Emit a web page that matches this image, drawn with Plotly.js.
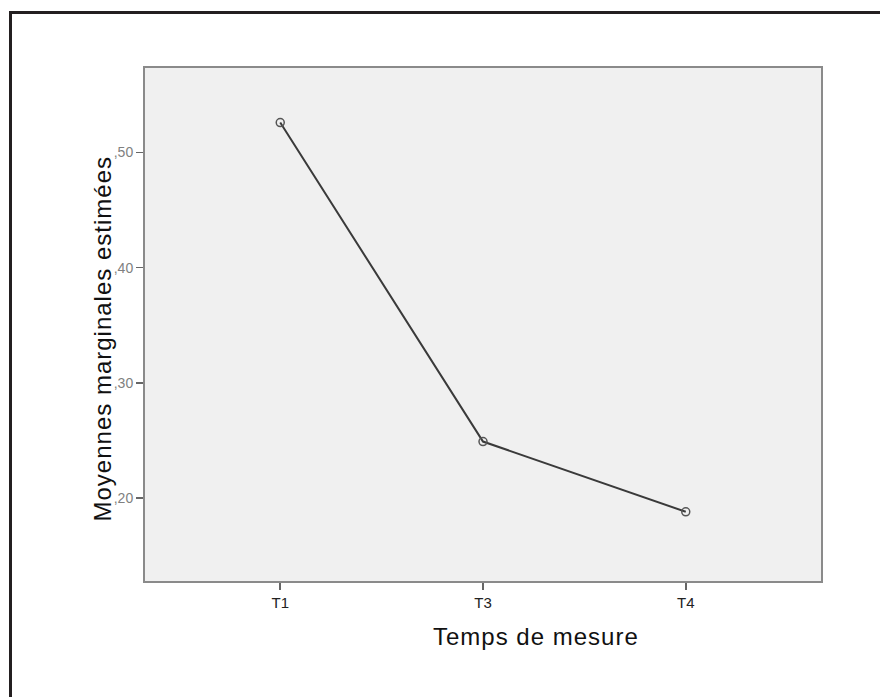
<!DOCTYPE html>
<html>
<head>
<meta charset="utf-8">
<script src="https://cdn.plot.ly/plotly-3.0.1.min.js"></script>
<style>
  body { margin: 0; overflow: hidden; background: #fff; }
  #graph { position: absolute; left: 0; top: 0; width: 880px; height: 697px; }
  #frame { position: absolute; left: 9px; top: 11px; width: 1000px; height: 1000px;
           border-left: 3px solid #231f20; border-top: 3px solid #231f20; pointer-events: none; }
  .annotation-text { letter-spacing: 1px; }
</style>
</head>
<body>
<div id="graph"></div>
<div id="frame"></div>
<script>
// temps de mesure et moyennes marginales
var temps = ['T1', 'T3', 'T4'];
var moyennes = [0.526, 0.249, 0.188];
var yTicks = [0.2, 0.3, 0.4, 0.5];
var yTickText = [',20', ',30', ',40', ',50'];

var titreFont = {family: 'Liberation Sans, Arial, sans-serif', size: 24, color: '#111'};

var trace = {
    x: temps,
    y: moyennes,
    type: 'scatter',
    mode: 'lines+markers',
    line: {color: '#3a3a3a', width: 2},
    marker: {symbol: 'circle-open', size: 8, color: '#555', line: {width: 1.5}},
    showlegend: false,
    hoverinfo: 'x+y'
};

var layout = {
    width: 880,
    height: 697,
    margin: {l: 145, r: 59, t: 68, b: 116},
    paper_bgcolor: 'rgba(0,0,0,0)',
    plot_bgcolor: '#f0f0f0',
    showlegend: false,
    xaxis: {
        type: 'category',
        range: [-0.667, 2.667],
        showgrid: false,
        zeroline: false,
        showline: true, mirror: true,
        linecolor: '#8a8a8a', linewidth: 2,
        ticks: 'outside', ticklen: 7, tickwidth: 1.5, tickcolor: '#666',
        tickfont: {family: 'Liberation Sans, Arial, sans-serif', size: 15, color: '#222'}
    },
    yaxis: {
        range: [0.1279, 0.5734],
        tickvals: yTicks,
        ticktext: yTickText,
        showgrid: false,
        zeroline: false,
        showline: true, mirror: true,
        linecolor: '#8a8a8a', linewidth: 2,
        ticks: 'outside', ticklen: 7, tickwidth: 1.5, tickcolor: '#666',
        tickfont: {family: 'Liberation Sans, Arial, sans-serif', size: 14, color: '#808080'}
    },
    annotations: [{
        text: 'Temps de mesure',
        xref: 'paper', yref: 'paper',
        x: 0.579, y: 0, yshift: -55,
        xanchor: 'center', yanchor: 'middle',
        showarrow: false,
        font: titreFont
    }, {
        text: 'Moyennes marginales estimées',
        xref: 'paper', yref: 'paper',
        x: 0, xshift: -42, y: 0.4727,
        xanchor: 'center', yanchor: 'middle',
        textangle: -90,
        showarrow: false,
        font: titreFont
    }]
};

Plotly.newPlot('graph', [trace], layout, {displayModeBar: false, staticPlot: true});
</script>
</body>
</html>
